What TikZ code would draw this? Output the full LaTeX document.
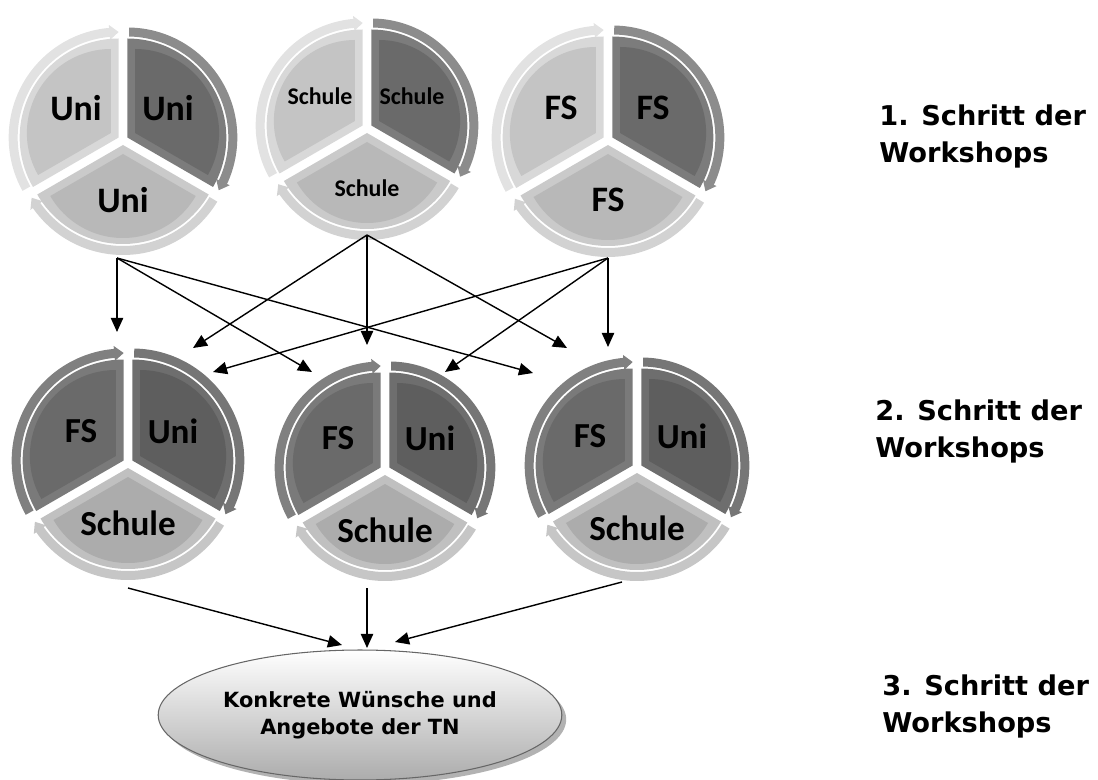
\documentclass[tikz,border=0pt]{standalone}
\usepackage{fontspec}
\setmainfont{DejaVu Sans}
\newfontfamily\segfont{Carlito}
\usepackage{tikz}
\usepackage{xcolor}
\usetikzlibrary{arrows.meta,shapes.geometric,shadows}

% segment colours: rim, bevel, face for each row
\definecolor{rim1a}{HTML}{E2E2E2}\definecolor{bev1a}{HTML}{D8D8D8}\definecolor{face1a}{HTML}{C4C4C4}
\definecolor{rim1b}{HTML}{8C8C8C}\definecolor{bev1b}{HTML}{7C7C7C}\definecolor{face1b}{HTML}{6A6A6A}
\definecolor{rim1c}{HTML}{D2D2D2}\definecolor{bev1c}{HTML}{CACACA}\definecolor{face1c}{HTML}{B8B8B8}
\definecolor{rim2a}{HTML}{808080}\definecolor{bev2a}{HTML}{7A7A7A}\definecolor{face2a}{HTML}{6A6A6A}
\definecolor{rim2b}{HTML}{767676}\definecolor{bev2b}{HTML}{6E6E6E}\definecolor{face2b}{HTML}{5E5E5E}
\definecolor{rim2c}{HTML}{C6C6C6}\definecolor{bev2c}{HTML}{C0C0C0}\definecolor{face2c}{HTML}{ACACAC}

\begin{document}
\begin{tikzpicture}[x=0.02cm, y=-0.02cm,
	arr/.style={-{Triangle[length=8pt,width=7pt]}, line width=0.8pt, black},
	seglabel/.style={inner sep=0pt, text=black},
	steptext/.style={anchor=north west, inner sep=0pt, align=left, font=\bfseries\fontsize{15.5}{21.5}\selectfont}]
	\useasboundingbox (0,0) rectangle (1098,780);
	% the six rings of three segments
	\foreach \n/\cx/\cy/\r/\row/\ta/\tb/\tc/\fs in {
		c1/123/140/110/1/Uni/Uni/Uni/20.4,
		c2/367/128/107/1/Schule/Schule/Schule/13.6,
		c3/608/140/112/1/FS/FS/FS/20.4,
		c4/128/463/112/2/FS/Uni/Schule/20,
		c5/385/470/106/2/FS/Uni/Schule/20,
		c6/637/468/108/2/FS/Uni/Schule/20}
	{
		\foreach \s/\a/\b/\lx/\ly/\txt in {a/150/270/-47/-32/\ta, b/-90/30/45/-32/\tb, c/30/150/0/60/\tc}
		{
			\pgfmathsetmacro\m{(\a+\b)/2}
			\begin{scope}[shift={(\cx,\cy)}]
				\begin{scope}[shift={(\m:5)}]
					\fill[rim\row\s] (\a+1:\r) arc[start angle=\a+1, end angle=\b-5, radius=\r]
						-- (\b-5:\r+3) -- (\b:\r-4.5) -- (\b-5:\r-12) -- (\b-5:\r-9)
						arc[start angle=\b-5, end angle=\a+1, radius=\r-9] -- cycle;
					\fill[bev\row\s] (0,0) -- (\a:\r-11) arc[start angle=\a, end angle=\b, radius=\r-11] -- cycle;
				\end{scope}
				\begin{scope}[shift={(\m:14)}]
					\fill[face\row\s] (0,0) -- (\a:\r-26) arc[start angle=\a, end angle=\b, radius=\r-26] -- cycle;
				\end{scope}
			\end{scope}
			\node[seglabel, font=\segfont\bfseries\fontsize{\fs}{\fs}\selectfont] (\n\s) at (\cx+\lx,\cy+\ly) {\txt};
		}
	}
	% start and end points of the arrows
	\coordinate (s1) at (117,258);
	\coordinate (s2) at (367,235);
	\coordinate (s3) at (608,258);
	\coordinate (t11) at (117,332);
	\coordinate (t15) at (312,372);
	\coordinate (t16) at (533,373);
	\coordinate (t24) at (193,348);
	\coordinate (t25) at (367,345);
	\coordinate (t26) at (567,348);
	\coordinate (t34) at (213,372);
	\coordinate (t35) at (445,372);
	\coordinate (t36) at (608,347);
	\coordinate (u4) at (128,588);
	\coordinate (u5) at (367,588);
	\coordinate (u6) at (622,582);
	\coordinate (v4) at (342,645);
	\coordinate (v5) at (367,648);
	\coordinate (v6) at (395,642);
	\foreach \p/\q in {s1/t11, s1/t15, s1/t16, s2/t24, s2/t25, s2/t26, s3/t34, s3/t35, s3/t36, u4/v4, u5/v5, u6/v6}
	{
		\draw[arr] (\p) -- (\q);
	}
	% result
	\node[ellipse, draw=gray!80!black, line width=0.6pt, top color=white, bottom color=gray!65,
		drop shadow={shadow xshift=2.5pt, shadow yshift=-2.5pt, fill=gray!60, opacity=1},
		minimum width=7.6cm, minimum height=2.6cm, align=center,
		font=\bfseries\fontsize{11.9}{15.3}\selectfont] (wish) at (360,715) {Konkrete Wünsche und\\Angebote der TN};
	% the steps
	\node[steptext] (step1) at (879,104) {1. Schritt der\\Workshops};
	\node[steptext] (step2) at (875,399) {2. Schritt der\\Workshops};
	\node[steptext] (step3) at (882,674) {3. Schritt der\\Workshops};
\end{tikzpicture}
\end{document}
